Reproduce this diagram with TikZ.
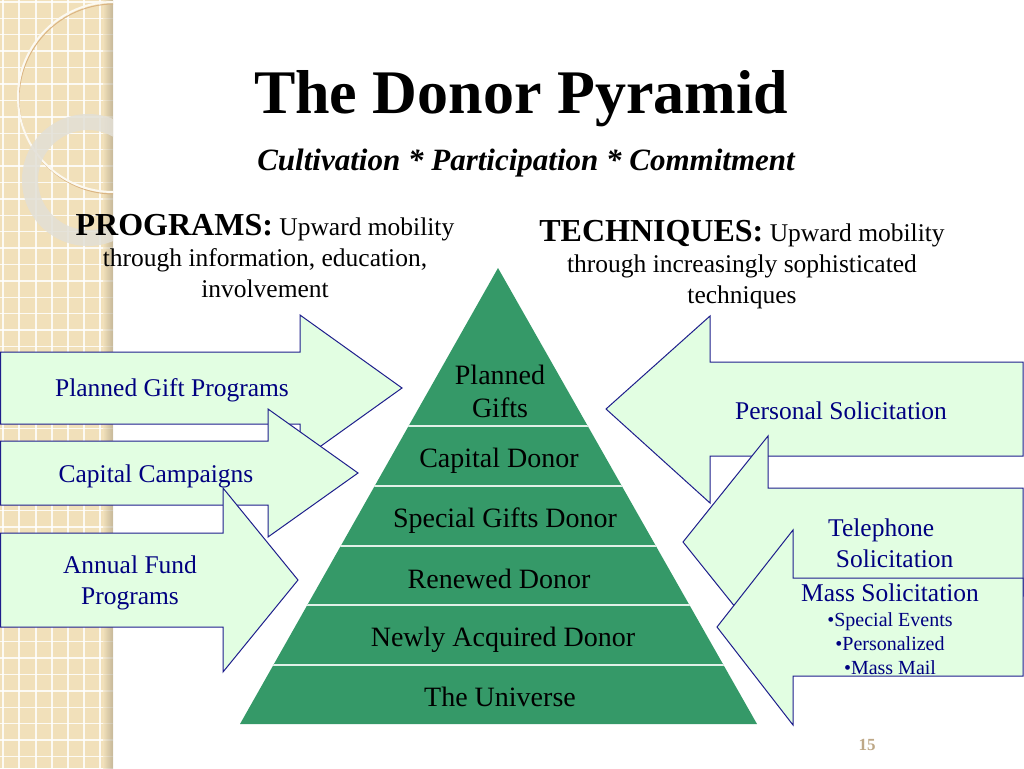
\documentclass[tikz,border=0pt]{standalone}
\usepackage{fontspec}
\setmainfont{Liberation Serif}
\usepackage{tikz}

\definecolor{stripbeige}{RGB}{241,224,186}
\definecolor{pyrgreen}{RGB}{53,153,104}
\definecolor{arrowfill}{RGB}{226,254,226}
\definecolor{arrowline}{RGB}{30,30,140}
\definecolor{arrowtext}{RGB}{0,0,128}
\definecolor{pagetan}{RGB}{190,168,135}
\definecolor{ringgray}{RGB}{226,223,214}

\begin{document}
\begin{tikzpicture}[x=1pt,y=-1pt,
  arrowbox/.style={draw=arrowline,fill=arrowfill,line width=1pt,line join=miter},
  arrowlabel/.style={text=arrowtext,font=\fontsize{25.5}{31}\selectfont,align=center,inner sep=0pt},
  tierlabel/.style={text=black,font=\fontsize{28}{33}\selectfont,align=center,inner sep=0pt},
  headlabel/.style={font=\fontsize{25.5}{31}\selectfont,align=center,inner sep=0pt},
  tierline/.style={draw=white!85!pyrgreen,line width=1.5pt}]

\useasboundingbox (0,0) rectangle (1024,768);

% left strip
\fill[stripbeige] (0,0) rectangle (113,768);
\begin{scope}
\clip (0,0) rectangle (113,768);
\foreach \gx in {3,19,36,52,68,84,100}
  \draw[white,line width=1.4pt,opacity=0.85] (\gx,0) -- (\gx,768);
\foreach \gy in {2,18.4,...,768}
  \draw[white,line width=1.4pt,opacity=0.85] (0,\gy) -- (113,\gy);
\shade[left color=stripbeige,right color=stripbeige!70!black,opacity=0.6] (103,0) rectangle (113,768);
\draw[stripbeige!55!brown,line width=1pt] (114,99) circle[radius=95];
\draw[white!80!stripbeige,line width=2pt] (113,97) circle[radius=95];
\fill[ringgray,opacity=0.85,even odd rule] (88,180) circle[radius=66] (88,180) circle[radius=50];
\end{scope}

% titles
\node[font=\fontsize{62}{62}\selectfont\bfseries] (title) at (521,99) {The Donor Pyramid};
\node[font=\fontsize{31}{31}\selectfont\bfseries\itshape] (subtitle) at (526,163) {Cultivation * Participation * Commitment};

\node[headlabel] (programs) at (265,256) {{\fontsize{32}{31}\selectfont\bfseries PROGRAMS:} Upward mobility\\ through information, education,\\ involvement};
\node[headlabel] (techniques) at (742,265) {{\fontsize{32}{31}\selectfont\bfseries TECHNIQUES:} Upward mobility\\ through increasingly sophisticated\\ techniques};

% pyramid
\coordinate (apex) at (498,268);
\coordinate (baseL) at (240,724);
\coordinate (baseR) at (757,724);
\fill[pyrgreen] (apex) -- (baseR) -- (baseL) -- cycle;
\begin{scope}
\clip (apex) -- (baseR) -- (baseL) -- cycle;
\foreach \ty in {426,486,546,605,665}
  \draw[tierline] (200,\ty) -- (800,\ty);
\end{scope}

\node[tierlabel] (planned) at (500,391) {Planned\\Gifts};
\node[tierlabel] (capital) at (499,461) {Capital Donor};
\node[tierlabel] (special) at (505,521) {Special Gifts Donor};
\node[tierlabel] (renewed) at (499,579) {Renewed Donor};
\node[tierlabel] (newly) at (503,640) {Newly Acquired Donor};
\node[tierlabel] (universe) at (500,697) {The Universe};

% program arrows
\draw[arrowbox] (0.5,352) -- (300,352) -- (300,315) -- (402,388) -- (300,461) -- (300,424) -- (0.5,424) -- cycle;
\draw[arrowbox] (0.5,441) -- (268,441) -- (268,409) -- (358,473) -- (268,537) -- (268,505) -- (0.5,505) -- cycle;
\draw[arrowbox] (0.5,533) -- (223,533) -- (223,488) -- (298,580) -- (223,672) -- (223,627) -- (0.5,627) -- cycle;

% technique arrows
\draw[arrowbox] (1023,362) -- (710,362) -- (710,316) -- (606,409) -- (710,503) -- (710,456) -- (1023,456) -- cycle;
\draw[arrowbox] (1023,488) -- (768,488) -- (768,436) -- (683,542) -- (768,648) -- (768,596) -- (1023,596) -- cycle;
\draw[arrowbox] (1023,578) -- (793,578) -- (793,530) -- (717,627) -- (793,725) -- (793,676) -- (1023,676) -- cycle;

\node[arrowlabel] (plannedprog) at (172,390) {Planned Gift Programs};
\node[arrowlabel] (campaigns) at (156,476) {Capital Campaigns};
\node[arrowlabel] (annual) at (130,583) {Annual Fund\\Programs};
\node[arrowlabel] (personal) at (841,411) {Personal Solicitation};
\node[arrowlabel,align=left,anchor=west] (telephone) at (828,543) {Telephone\\\hspace*{0.3em}Solicitation};
\node[arrowlabel] (mass) at (890,593) {Mass Solicitation};
\node[arrowlabel,font=\fontsize{20}{24}\selectfont] (massitems) at (890,644) {•Special Events\\•Personalized\\•Mass Mail};

\node[font=\fontsize{17}{17}\selectfont\bfseries,text=pagetan] (pagenum) at (867,745) {15};

\end{tikzpicture}
\end{document}
